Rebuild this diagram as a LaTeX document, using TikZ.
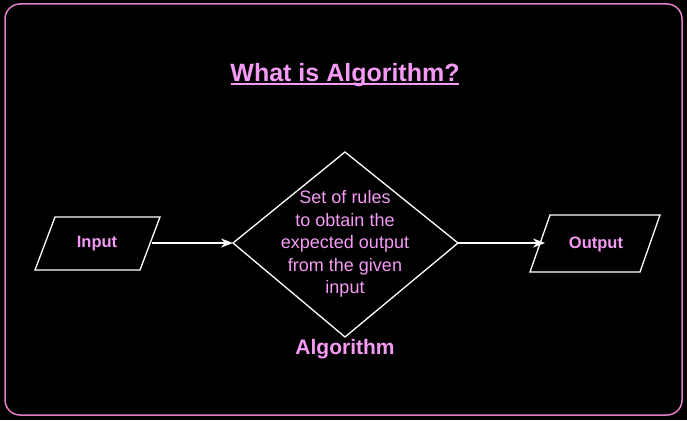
\documentclass[tikz,border=0pt]{standalone}
\usepackage{fontspec}
\setmainfont{Liberation Sans}
\usetikzlibrary{arrows.meta,shapes.geometric}
\definecolor{pk}{HTML}{F59AF5}
\definecolor{bd}{HTML}{E080C8}
\tikzset{
  shp/.style={draw=white,line width=1.3pt},
  lbl/.style={text=pk,font=\bfseries\fontsize{16.5}{19}\selectfont},
  arr/.style={draw=white,line width=1.6pt,-{Stealth[length=12pt,width=9pt]}}
}
\begin{document}
\begin{tikzpicture}[x=1pt,y=-1pt]
\useasboundingbox (0,0) rectangle (687,420);
\fill[black] (0,0) rectangle (687,420);
\draw[bd,line width=1.5pt,rounded corners=15pt] (5,4) rectangle (682,415);
\node[text=pk,font=\bfseries\fontsize{25}{28}\selectfont] (title) at (345,75) {What is Algorithm?};
\draw[pk,line width=2pt] ([yshift=-3pt]title.base west) ++(4,0) -- ([yshift=-3pt,xshift=-4pt]title.base east);
\node[lbl] (in) at (97,244) {Input};
\draw[shp] (35,270) -- (55,217) -- (160,217) -- (140,270) -- cycle;
\coordinate (inR) at (152,243);
\draw[shp] (345,152) -- (458,243) -- (345,337) -- (233,243) -- cycle;
\coordinate (dL) at (233,243);
\coordinate (dR) at (458,243);
\node[text=pk,align=center,font=\fontsize{18}{22.5}\selectfont] (txt) at (345,244) {Set of rules\\to obtain the\\expected output\\from the given\\input};
\node[text=pk,font=\bfseries\fontsize{21}{24}\selectfont] (alg) at (345,349) {Algorithm};
\draw[shp] (530,272) -- (550,215) -- (660,215) -- (640,272) -- cycle;
\node[lbl] (out) at (596,244) {Output};
\coordinate (oL) at (545,243);
\draw[arr] (inR) -- (dL);
\draw[arr] (dR) -- (oL);
\end{tikzpicture}
\end{document}
